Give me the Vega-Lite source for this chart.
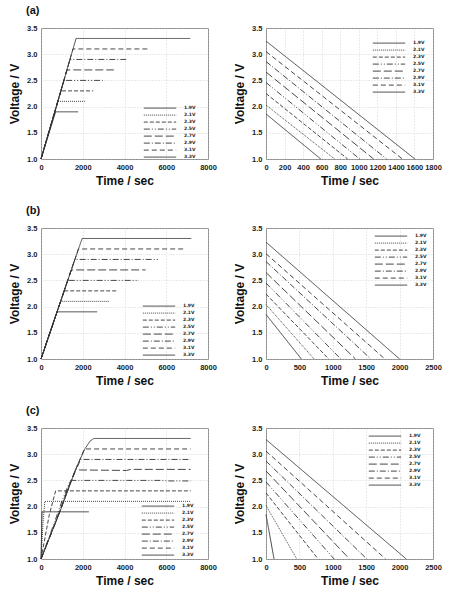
{
  "$schema": "https://vega.github.io/schema/vega-lite/v6.json",
  "background": "white",
  "padding": {"left": 8, "top": 4, "right": 4, "bottom": 0},
  "columns": 2,
  "spacing": {"row": 17, "column": 16},
  "config": {
    "view": {"stroke": "#8a8a8a", "strokeWidth": 1},
    "axis": {
      "labelFont": "Liberation Sans", "labelFontWeight": "bold", "labelFontSize": 7.5, "labelColor": "#222",
      "titleFont": "Liberation Sans", "titleFontWeight": "bold", "titleFontSize": 12, "titleColor": "#111",
      "grid": true, "gridColor": "#c4c4c4", "gridDash": [1, 2], "gridWidth": 0.7,
      "domain": false, "ticks": false, "labelPadding": 4, "labelOverlap": false, "labelFlush": false, "titlePadding": 5
    },
    "legend": {
      "symbolType": "stroke", "symbolSize": 1050, "symbolStrokeWidth": 1, "symbolStrokeColor": "#333",
      "clipHeight": 6.2, "rowPadding": 0, "labelFontSize": 4.5, "labelFont": "DejaVu Sans", "labelFontWeight": "bold",
      "labelColor": "#222", "labelOffset": 7, "padding": 0, "titlePadding": 0
    },
    "title": {"font": "Liberation Sans", "fontWeight": "bold", "fontSize": 11, "color": "#111", "anchor": "start", "frame": "group", "dx": -15, "offset": 8},
    "line": {"strokeWidth": 0.9, "color": "#333"}
  },
  "resolve": {"scale": {"strokeDash": "independent", "x": "independent", "y": "independent"}, "legend": {"strokeDash": "independent"}},
  "datasets": {
    "a1": [
      {"t": 0, "v": 1.0, "s": "1.9V"}, {"t": 700, "v": 1.9, "s": "1.9V"}, {"t": 1780, "v": 1.9, "s": "1.9V"},
      {"t": 0, "v": 1.0, "s": "2.1V"}, {"t": 820, "v": 2.1, "s": "2.1V"}, {"t": 2100, "v": 2.1, "s": "2.1V"},
      {"t": 0, "v": 1.0, "s": "2.3V"}, {"t": 960, "v": 2.3, "s": "2.3V"}, {"t": 2500, "v": 2.3, "s": "2.3V"},
      {"t": 0, "v": 1.0, "s": "2.5V"}, {"t": 1100, "v": 2.5, "s": "2.5V"}, {"t": 2960, "v": 2.5, "s": "2.5V"},
      {"t": 0, "v": 1.0, "s": "2.7V"}, {"t": 1250, "v": 2.7, "s": "2.7V"}, {"t": 3490, "v": 2.7, "s": "2.7V"},
      {"t": 0, "v": 1.0, "s": "2.9V"}, {"t": 1390, "v": 2.9, "s": "2.9V"}, {"t": 4080, "v": 2.9, "s": "2.9V"},
      {"t": 0, "v": 1.0, "s": "3.1V"}, {"t": 1530, "v": 3.1, "s": "3.1V"}, {"t": 5120, "v": 3.1, "s": "3.1V"},
      {"t": 0, "v": 1.0, "s": "3.3V"}, {"t": 1680, "v": 3.3, "s": "3.3V"}, {"t": 7150, "v": 3.3, "s": "3.3V"}
    ],
    "a2": [
      {"t": 0, "v": 1.86, "s": "1.9V"}, {"t": 590, "v": 1.0, "s": "1.9V"},
      {"t": 0, "v": 2.03, "s": "2.1V"}, {"t": 740, "v": 1.0, "s": "2.1V"},
      {"t": 0, "v": 2.25, "s": "2.3V"}, {"t": 880, "v": 1.0, "s": "2.3V"},
      {"t": 0, "v": 2.46, "s": "2.5V"}, {"t": 1010, "v": 1.0, "s": "2.5V"},
      {"t": 0, "v": 2.66, "s": "2.7V"}, {"t": 1160, "v": 1.0, "s": "2.7V"},
      {"t": 0, "v": 2.86, "s": "2.9V"}, {"t": 1300, "v": 1.0, "s": "2.9V"},
      {"t": 0, "v": 3.05, "s": "3.1V"}, {"t": 1470, "v": 1.0, "s": "3.1V"},
      {"t": 0, "v": 3.25, "s": "3.3V"}, {"t": 1605, "v": 1.0, "s": "3.3V"}
    ],
    "b1": [
      {"t": 0, "v": 1.0, "s": "1.9V"}, {"t": 770, "v": 1.9, "s": "1.9V"}, {"t": 2690, "v": 1.9, "s": "1.9V"},
      {"t": 0, "v": 1.0, "s": "2.1V"}, {"t": 940, "v": 2.1, "s": "2.1V"}, {"t": 3250, "v": 2.1, "s": "2.1V"},
      {"t": 0, "v": 1.0, "s": "2.3V"}, {"t": 1110, "v": 2.3, "s": "2.3V"}, {"t": 3650, "v": 2.3, "s": "2.3V"},
      {"t": 0, "v": 1.0, "s": "2.5V"}, {"t": 1280, "v": 2.5, "s": "2.5V"}, {"t": 4690, "v": 2.5, "s": "2.5V"},
      {"t": 0, "v": 1.0, "s": "2.7V"}, {"t": 1450, "v": 2.7, "s": "2.7V"}, {"t": 5010, "v": 2.7, "s": "2.7V"},
      {"t": 0, "v": 1.0, "s": "2.9V"}, {"t": 1620, "v": 2.9, "s": "2.9V"}, {"t": 5600, "v": 2.9, "s": "2.9V"},
      {"t": 0, "v": 1.0, "s": "3.1V"}, {"t": 1790, "v": 3.1, "s": "3.1V"}, {"t": 6880, "v": 3.1, "s": "3.1V"},
      {"t": 0, "v": 1.0, "s": "3.3V"}, {"t": 1970, "v": 3.3, "s": "3.3V"}, {"t": 7200, "v": 3.3, "s": "3.3V"}
    ],
    "b2": [
      {"t": 0, "v": 1.85, "s": "1.9V"}, {"t": 530, "v": 1.0, "s": "1.9V"},
      {"t": 0, "v": 2.04, "s": "2.1V"}, {"t": 720, "v": 1.0, "s": "2.1V"},
      {"t": 0, "v": 2.24, "s": "2.3V"}, {"t": 940, "v": 1.0, "s": "2.3V"},
      {"t": 0, "v": 2.45, "s": "2.5V"}, {"t": 1120, "v": 1.0, "s": "2.5V"},
      {"t": 0, "v": 2.65, "s": "2.7V"}, {"t": 1340, "v": 1.0, "s": "2.7V"},
      {"t": 0, "v": 2.86, "s": "2.9V"}, {"t": 1570, "v": 1.0, "s": "2.9V"},
      {"t": 0, "v": 3.01, "s": "3.1V"}, {"t": 1780, "v": 1.0, "s": "3.1V"},
      {"t": 0, "v": 3.23, "s": "3.3V"}, {"t": 2000, "v": 1.0, "s": "3.3V"}
    ],
    "c1": [
      {"t": 0, "v": 1.0, "s": "1.9V"}, {"t": 50, "v": 1.9, "s": "1.9V"}, {"t": 2290, "v": 1.9, "s": "1.9V"},
      {"t": 0, "v": 1.0, "s": "2.1V"}, {"t": 100, "v": 1.7, "s": "2.1V"}, {"t": 180, "v": 2.1, "s": "2.1V"}, {"t": 7170, "v": 2.1, "s": "2.1V"},
      {"t": 0, "v": 1.0, "s": "2.3V"}, {"t": 400, "v": 1.85, "s": "2.3V"}, {"t": 700, "v": 2.3, "s": "2.3V"}, {"t": 7170, "v": 2.3, "s": "2.3V"},
      {"t": 0, "v": 1.0, "s": "2.5V"}, {"t": 600, "v": 1.65, "s": "2.5V"}, {"t": 1000, "v": 2.1, "s": "2.5V"}, {"t": 1400, "v": 2.5, "s": "2.5V"}, {"t": 5800, "v": 2.5, "s": "2.5V"}, {"t": 6000, "v": 2.49, "s": "2.5V"}, {"t": 7170, "v": 2.49, "s": "2.5V"},
      {"t": 0, "v": 1.0, "s": "2.7V"}, {"t": 700, "v": 1.7, "s": "2.7V"}, {"t": 1200, "v": 2.25, "s": "2.7V"}, {"t": 1650, "v": 2.7, "s": "2.7V"}, {"t": 4100, "v": 2.69, "s": "2.7V"}, {"t": 4300, "v": 2.71, "s": "2.7V"}, {"t": 7170, "v": 2.71, "s": "2.7V"},
      {"t": 0, "v": 1.0, "s": "2.9V"}, {"t": 800, "v": 1.8, "s": "2.9V"}, {"t": 1400, "v": 2.45, "s": "2.9V"}, {"t": 1900, "v": 2.9, "s": "2.9V"}, {"t": 7170, "v": 2.9, "s": "2.9V"},
      {"t": 0, "v": 1.0, "s": "3.1V"}, {"t": 900, "v": 1.9, "s": "3.1V"}, {"t": 1600, "v": 2.65, "s": "3.1V"}, {"t": 2080, "v": 3.1, "s": "3.1V"}, {"t": 7170, "v": 3.1, "s": "3.1V"},
      {"t": 0, "v": 1.0, "s": "3.3V"}, {"t": 1000, "v": 2.0, "s": "3.3V"}, {"t": 1700, "v": 2.75, "s": "3.3V"}, {"t": 2100, "v": 3.1, "s": "3.3V"}, {"t": 2350, "v": 3.25, "s": "3.3V"}, {"t": 2530, "v": 3.3, "s": "3.3V"}, {"t": 7170, "v": 3.3, "s": "3.3V"}
    ],
    "c2": [
      {"t": 0, "v": 1.85, "s": "1.9V"}, {"t": 120, "v": 1.0, "s": "1.9V"},
      {"t": 0, "v": 2.02, "s": "2.1V"}, {"t": 460, "v": 1.0, "s": "2.1V"},
      {"t": 0, "v": 2.26, "s": "2.3V"}, {"t": 780, "v": 1.0, "s": "2.3V"},
      {"t": 0, "v": 2.47, "s": "2.5V"}, {"t": 1020, "v": 1.0, "s": "2.5V"},
      {"t": 0, "v": 2.68, "s": "2.7V"}, {"t": 1250, "v": 1.0, "s": "2.7V"},
      {"t": 0, "v": 2.87, "s": "2.9V"}, {"t": 1510, "v": 1.0, "s": "2.9V"},
      {"t": 0, "v": 3.06, "s": "3.1V"}, {"t": 1790, "v": 1.0, "s": "3.1V"},
      {"t": 0, "v": 3.28, "s": "3.3V"}, {"t": 2100, "v": 1.0, "s": "3.3V"}
    ]
  },
  "concat": [
    {
      "title": {"text": "(a)"},
      "width": 167, "height": 131,
      "data": {"name": "a1"},
      "mark": {"type": "line"},
      "encoding": {
        "x": {"field": "t", "type": "quantitative", "title": "Time / sec", "scale": {"domain": [0, 8000], "nice": false}, "axis": {"values": [0, 2000, 4000, 6000, 8000], "format": "d"}},
        "y": {"field": "v", "type": "quantitative", "title": "Voltage / V", "scale": {"domain": [1, 3.5], "nice": false, "zero": false}, "axis": {"values": [1, 1.5, 2, 2.5, 3, 3.5], "format": ".1f"}},
        "strokeDash": {"field": "s", "type": "nominal", "scale": {"domain": ["1.9V", "2.1V", "2.3V", "2.5V", "2.7V", "2.9V", "3.1V", "3.3V"], "range": [[1, 0], [1, 1], [4, 2], [6, 2, 1, 2, 1, 2], [8, 3], [6, 2, 1, 2], [5, 3], [1, 0]]}, "legend": {"title": null, "orient": "none", "legendX": 102, "legendY": 77}}
      }
    },
    {
      "width": 167, "height": 131,
      "data": {"name": "a2"},
      "mark": {"type": "line"},
      "encoding": {
        "x": {"field": "t", "type": "quantitative", "title": "Time / sec", "scale": {"domain": [0, 1800], "nice": false}, "axis": {"values": [0, 200, 400, 600, 800, 1000, 1200, 1400, 1600, 1800], "format": "d"}},
        "y": {"field": "v", "type": "quantitative", "title": "Voltage / V", "scale": {"domain": [1, 3.5], "nice": false, "zero": false}, "axis": {"values": [1, 1.5, 2, 2.5, 3, 3.5], "format": ".1f"}},
        "strokeDash": {"field": "s", "type": "nominal", "scale": {"domain": ["1.9V", "2.1V", "2.3V", "2.5V", "2.7V", "2.9V", "3.1V", "3.3V"], "range": [[1, 0], [1, 1], [4, 2], [6, 2, 1, 2, 1, 2], [8, 3], [6, 2, 1, 2], [5, 3], [1, 0]]}, "legend": {"title": null, "orient": "none", "legendX": 106, "legendY": 12}}
      }
    },
    {
      "title": {"text": "(b)"},
      "width": 167, "height": 131,
      "data": {"name": "b1"},
      "mark": {"type": "line"},
      "encoding": {
        "x": {"field": "t", "type": "quantitative", "title": "Time / sec", "scale": {"domain": [0, 8000], "nice": false}, "axis": {"values": [0, 2000, 4000, 6000, 8000], "format": "d"}},
        "y": {"field": "v", "type": "quantitative", "title": "Voltage / V", "scale": {"domain": [1, 3.5], "nice": false, "zero": false}, "axis": {"values": [1, 1.5, 2, 2.5, 3, 3.5], "format": ".1f"}},
        "strokeDash": {"field": "s", "type": "nominal", "scale": {"domain": ["1.9V", "2.1V", "2.3V", "2.5V", "2.7V", "2.9V", "3.1V", "3.3V"], "range": [[1, 0], [1, 1], [4, 2], [6, 2, 1, 2, 1, 2], [8, 3], [6, 2, 1, 2], [5, 3], [1, 0]]}, "legend": {"title": null, "orient": "none", "legendX": 101, "legendY": 75}}
      }
    },
    {
      "width": 167, "height": 131,
      "data": {"name": "b2"},
      "mark": {"type": "line"},
      "encoding": {
        "x": {"field": "t", "type": "quantitative", "title": "Time / sec", "scale": {"domain": [0, 2500], "nice": false}, "axis": {"values": [0, 500, 1000, 1500, 2000, 2500], "format": "d"}},
        "y": {"field": "v", "type": "quantitative", "title": "Voltage / V", "scale": {"domain": [1, 3.5], "nice": false, "zero": false}, "axis": {"values": [1, 1.5, 2, 2.5, 3, 3.5], "format": ".1f"}},
        "strokeDash": {"field": "s", "type": "nominal", "scale": {"domain": ["1.9V", "2.1V", "2.3V", "2.5V", "2.7V", "2.9V", "3.1V", "3.3V"], "range": [[1, 0], [1, 1], [4, 2], [6, 2, 1, 2, 1, 2], [8, 3], [6, 2, 1, 2], [5, 3], [1, 0]]}, "legend": {"title": null, "orient": "none", "legendX": 108, "legendY": 5}}
      }
    },
    {
      "title": {"text": "(c)"},
      "width": 167, "height": 131,
      "data": {"name": "c1"},
      "mark": {"type": "line"},
      "encoding": {
        "x": {"field": "t", "type": "quantitative", "title": "Time / sec", "scale": {"domain": [0, 8000], "nice": false}, "axis": {"values": [0, 2000, 4000, 6000, 8000], "format": "d"}},
        "y": {"field": "v", "type": "quantitative", "title": "Voltage / V", "scale": {"domain": [1, 3.5], "nice": false, "zero": false}, "axis": {"values": [1, 1.5, 2, 2.5, 3, 3.5], "format": ".1f"}},
        "strokeDash": {"field": "s", "type": "nominal", "scale": {"domain": ["1.9V", "2.1V", "2.3V", "2.5V", "2.7V", "2.9V", "3.1V", "3.3V"], "range": [[1, 0], [1, 1], [4, 2], [6, 2, 1, 2, 1, 2], [8, 3], [6, 2, 1, 2], [5, 3], [1, 0]]}, "legend": {"title": null, "orient": "none", "legendX": 100, "legendY": 75}}
      }
    },
    {
      "width": 167, "height": 131,
      "data": {"name": "c2"},
      "mark": {"type": "line"},
      "encoding": {
        "x": {"field": "t", "type": "quantitative", "title": "Time / sec", "scale": {"domain": [0, 2500], "nice": false}, "axis": {"values": [0, 500, 1000, 1500, 2000, 2500], "format": "d"}},
        "y": {"field": "v", "type": "quantitative", "title": "Voltage / V", "scale": {"domain": [1, 3.5], "nice": false, "zero": false}, "axis": {"values": [1, 1.5, 2, 2.5, 3, 3.5], "format": ".1f"}},
        "strokeDash": {"field": "s", "type": "nominal", "scale": {"domain": ["1.9V", "2.1V", "2.3V", "2.5V", "2.7V", "2.9V", "3.1V", "3.3V"], "range": [[1, 0], [1, 1], [4, 2], [6, 2, 1, 2, 1, 2], [8, 3], [6, 2, 1, 2], [5, 3], [1, 0]]}, "legend": {"title": null, "orient": "none", "legendX": 102, "legendY": 5}}
      }
    }
  ]
}
